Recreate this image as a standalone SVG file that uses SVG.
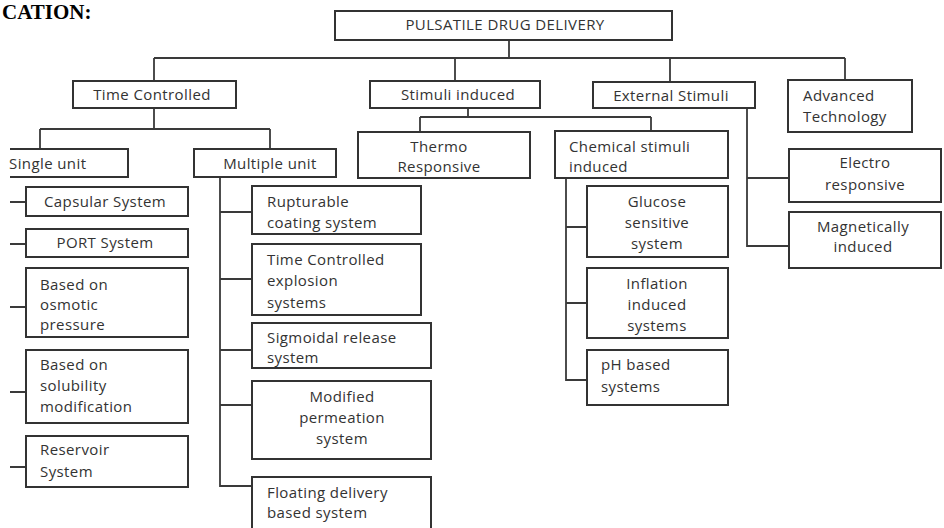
<svg xmlns="http://www.w3.org/2000/svg" width="944" height="528" viewBox="0 0 944 528">
<style>
.b{fill:#fff;stroke:#333;stroke-width:2}
.o{fill:none;stroke:#333;stroke-width:2}
.c{fill:none;stroke:#3a3a3a;stroke-width:1.8}
text{font-family:"Open Sans","Liberation Sans",sans-serif;font-size:15px;letter-spacing:0.4px;fill:#333}
.m{text-anchor:middle}
.h{font-family:"Liberation Serif",serif;font-weight:bold;font-size:21px;letter-spacing:0;fill:#000}
</style>
<rect width="944" height="528" fill="#fff"/>
<text class="h" x="2" y="19">CATION:</text>
<g id="connectors" class="c">
<path d="M509 40V58M154 58H845M154 58V81M455 58V81M670 58V82M845 58V80"/>
<path d="M154 108V129M40 129H270M40 129V149M270 129V149"/>
<path d="M468 108V117M420 117H651M420 117V132M651 117V131"/>
<path d="M747 108V247M747 178H789M747 246H789"/>
<path d="M10 202H26M10 244H26M10 307H26M10 392H26M10 467H26"/>
<path d="M220 177V486H252M220 212H252M220 279H252M220 350H252M220 405H252"/>
<path d="M566 178V380H587M566 227H587M566 303H587"/>
</g>
<g id="n-root"><rect class="b" x="335" y="11" width="337" height="29"/><text class="m" x="505" y="30">PULSATILE DRUG DELIVERY</text></g>
<g id="n-time"><rect class="b" x="73" y="81" width="163" height="27"/><text class="m" x="152" y="100">Time Controlled</text></g>
<g id="n-stimuli"><rect class="b" x="370" y="81" width="170" height="27"/><text class="m" x="458" y="100">Stimuli induced</text></g>
<g id="n-external"><rect class="b" x="593" y="82" width="162" height="26"/><text class="m" x="671" y="101">External Stimuli</text></g>
<g id="n-advanced"><rect class="b" x="788" y="80" width="124" height="52"/><text x="803" y="101">Advanced</text><text x="803" y="122">Technology</text></g>
<g id="n-single"><path class="o" d="M10 149H128V177H10"/><text x="9" y="169">Single unit</text></g>
<g id="n-multiple"><rect class="b" x="194" y="149" width="142" height="28"/><text class="m" x="270" y="169">Multiple unit</text></g>
<g id="n-thermo"><rect class="b" x="358" y="132" width="172" height="46"/><text class="m" x="439" y="152">Thermo</text><text class="m" x="439" y="172">Responsive</text></g>
<g id="n-chemical"><rect class="b" x="555" y="131" width="173" height="47"/><text x="569" y="152">Chemical stimuli</text><text x="569" y="172">induced</text></g>
<g id="n-electro"><rect class="b" x="789" y="149" width="152" height="53"/><text class="m" x="865" y="168">Electro</text><text class="m" x="865" y="190">responsive</text></g>
<g id="n-magnetic"><rect class="b" x="789" y="212" width="152" height="56"/><text class="m" x="863" y="232">Magnetically</text><text class="m" x="863" y="252">induced</text></g>
<g id="n-capsular"><rect class="b" x="26" y="187" width="162" height="29"/><text class="m" x="105" y="207">Capsular System</text></g>
<g id="n-port"><rect class="b" x="26" y="229" width="162" height="28"/><text class="m" x="105" y="248">PORT System</text></g>
<g id="n-osmotic"><rect class="b" x="26" y="268" width="162" height="69"/><text x="40" y="290">Based on</text><text x="40" y="310">osmotic</text><text x="40" y="330">pressure</text></g>
<g id="n-solubility"><rect class="b" x="26" y="350" width="162" height="73"/><text x="40" y="370">Based on</text><text x="40" y="391">solubility</text><text x="40" y="412">modification</text></g>
<g id="n-reservoir"><rect class="b" x="26" y="436" width="162" height="51"/><text x="40" y="455">Reservoir</text><text x="40" y="477">System</text></g>
<g id="n-rupturable"><rect class="b" x="252" y="186" width="169" height="48"/><text x="267" y="207">Rupturable</text><text x="267" y="228">coating system</text></g>
<g id="n-explosion"><rect class="b" x="252" y="244" width="169" height="71"/><text x="267" y="265">Time Controlled</text><text x="267" y="286">explosion</text><text x="267" y="308">systems</text></g>
<g id="n-sigmoidal"><rect class="b" x="252" y="323" width="179" height="45"/><text x="267" y="343">Sigmoidal release</text><text x="267" y="363">system</text></g>
<g id="n-modified"><rect class="b" x="252" y="381" width="179" height="78"/><text class="m" x="342" y="402">Modified</text><text class="m" x="342" y="423">permeation</text><text class="m" x="342" y="444">system</text></g>
<g id="n-floating"><path class="o" d="M252 530V477H431V530"/><text x="267" y="498">Floating delivery</text><text x="267" y="518">based system</text></g>
<g id="n-glucose"><rect class="b" x="587" y="186" width="141" height="71"/><text class="m" x="657" y="207">Glucose</text><text class="m" x="657" y="228">sensitive</text><text class="m" x="657" y="249">system</text></g>
<g id="n-inflation"><rect class="b" x="587" y="268" width="141" height="70"/><text class="m" x="657" y="289">Inflation</text><text class="m" x="657" y="310">induced</text><text class="m" x="657" y="331">systems</text></g>
<g id="n-ph"><rect class="b" x="587" y="350" width="141" height="55"/><text x="601" y="370">pH based</text><text x="601" y="392">systems</text></g>
</svg>
